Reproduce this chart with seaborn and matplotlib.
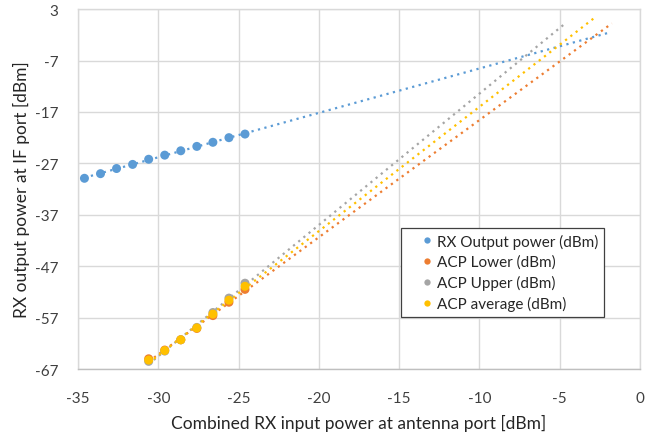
import numpy as np
import pandas as pd
import seaborn as sns
import matplotlib.pyplot as plt

# data
rx_x = [-34.6, -33.6, -32.6, -31.6, -30.6, -29.6, -28.6, -27.6, -26.6, -25.6, -24.6]
rx_out = [-29.9, -29.0, -28.0, -27.2, -26.2, -25.4, -24.55, -23.7, -22.9, -22.0, -21.3]
acp_x = [-30.6, -29.6, -28.6, -27.6, -26.6, -25.6, -24.6]
acp_lower = [-65.0, -63.3, -61.3, -59.1, -56.6, -54.0, -51.5]
acp_upper = [-65.5, -63.5, -61.3, -58.9, -56.0, -53.2, -50.3]
acp_avg = [-65.25, -63.4, -61.3, -59.0, -56.3, -53.6, -50.9]

series_names = ['RX Output power (dBm)', 'ACP Lower (dBm)', 'ACP Upper (dBm)', 'ACP average (dBm)']
colors = ['#5B9BD5', '#ED7D31', '#A5A5A5', '#FFC000']
# linear trendline forecast-forward end (x)
trend_end = [-1.9, -1.75, -4.6, -2.7]

x_ticks = [-35, -30, -25, -20, -15, -10, -5, 0]
y_ticks = [3, -7, -17, -27, -37, -47, -57, -67]

# %%
sns.set_theme(style="whitegrid")
plt.rcParams['font.family'] = ['Lato', 'DejaVu Sans']
plt.rcParams['axes.unicode_minus'] = False

series_x = [rx_x, acp_x, acp_x, acp_x]
series_y = [rx_out, acp_lower, acp_upper, acp_avg]
frames = []
for name, xs, ys in zip(series_names, series_x, series_y):
    frames.append(pd.DataFrame({'x': xs, 'y': ys, 'series': name}))
df = pd.concat(frames, ignore_index=True)

fig = plt.figure(figsize=(6.68, 4.39), dpi=100)
ax = fig.add_axes([0.1168, 0.157, 0.8412, 0.820])

# trendlines (least squares, extended forward)
for name, xs, ys, c, end in zip(series_names, series_x, series_y, colors, trend_end):
    p = np.polyfit(xs, ys, 1)
    tx = np.array([min(xs), end])
    ax.plot(tx, np.polyval(p, tx), color=c, linewidth=1.6,
            linestyle=(0, (1, 2)), dash_capstyle='butt', zorder=2)

sns.scatterplot(data=df, x='x', y='y', hue='series', palette=colors,
                hue_order=series_names, s=42, linewidth=0, ax=ax, zorder=3)

ax.set_xlim(-35, 0)
ax.set_ylim(-67, 3)
ax.set_xticks(x_ticks)
ax.set_yticks(y_ticks)
ax.grid(True, color='#D9D9D9', linewidth=1.0)
for s in ax.spines.values():
    s.set_color('#D9D9D9')
    s.set_linewidth(1.0)
ax.spines['bottom'].set_color('#BFBFBF')

ax.tick_params(axis='x', pad=16, labelsize=11, colors='#404040', length=0)
ax.tick_params(axis='y', pad=14, labelsize=11, colors='#404040', length=0)
ax.set_xlabel('Combined RX input power at antenna port [dBm]', fontsize=12.5, color='#262626', labelpad=6)
ax.set_ylabel('RX output power at IF port [dBm]', fontsize=12.5, color='#262626', labelpad=4)

leg = ax.legend(loc='upper left', bbox_to_anchor=(0.575, 0.392), borderaxespad=0,
                fontsize=11, frameon=True, fancybox=False, framealpha=1,
                handlelength=2.6, handletextpad=-0.65, labelspacing=0.39,
                borderpad=0.37, markerscale=0.7)
leg.get_frame().set_edgecolor('#404040')
leg.get_frame().set_linewidth(0.9)
for t in leg.get_texts():
    t.set_color('#262626')

fig.savefig('out.png', dpi=100)
plt.close()
